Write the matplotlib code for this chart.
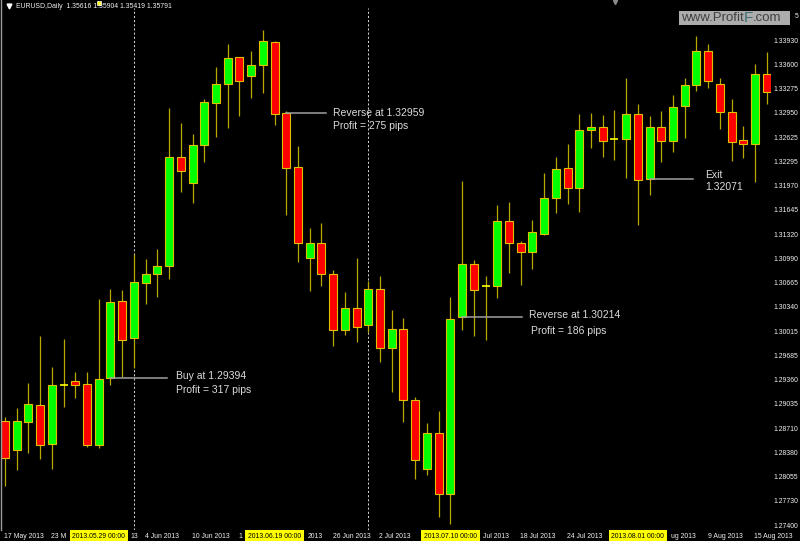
import numpy as np
import pandas as pd
import matplotlib
matplotlib.use('Agg')
import matplotlib.pyplot as plt
from matplotlib.lines import Line2D
from matplotlib.patches import Rectangle
from matplotlib.transforms import IdentityTransform, blended_transform_factory

plt.rcParams['font.family'] = ['Liberation Sans', 'DejaVu Sans']
SMALL = 4.95

# EURUSD daily candles
dates = pd.bdate_range('2013-05-17', '2013-08-16')
opens = [1.28815, 1.28427, 1.28806, 1.29034, 1.28504, 1.29303, 1.29358, 1.29312, 1.28495, 1.29394,
         1.30435, 1.29933, 1.30672, 1.30800, 1.30900, 1.32365, 1.32018, 1.32534, 1.33104, 1.33355,
         1.33711, 1.33460, 1.33606, 1.33921, 1.32959, 1.32242, 1.31019, 1.31210, 1.30800, 1.30038,
         1.30343, 1.30115, 1.30594, 1.29796, 1.30060, 1.29102, 1.28176, 1.28655, 1.27833, 1.30214,
         1.30932, 1.30640, 1.30640, 1.31507, 1.31210, 1.31087, 1.31329, 1.31817, 1.32219, 1.31950,
         1.32734, 1.32771, 1.32611, 1.32607, 1.32944, 1.32071, 1.32780, 1.32593, 1.33058, 1.33346,
         1.33793, 1.33355, 1.32972, 1.32598, 1.32548, 1.33483]
highs = [1.28874, 1.28988, 1.29330, 1.29969, 1.29549, 1.29924, 1.29476, 1.29476, 1.30462, 1.30599,
         1.30585, 1.31064, 1.30996, 1.31133, 1.33036, 1.32835, 1.32684, 1.33154, 1.33583, 1.33894,
         1.33715, 1.33802, 1.34076, 1.33930, 1.32990, 1.32525, 1.31420, 1.31489, 1.30845, 1.30553,
         1.31019, 1.30699, 1.30768, 1.30311, 1.30211, 1.29148, 1.28796, 1.28952, 1.30485, 1.32050,
         1.30982, 1.30768, 1.31726, 1.31763, 1.31238, 1.31530, 1.32160, 1.32374, 1.32547, 1.32949,
         1.32958, 1.32935, 1.33004, 1.33428, 1.33081, 1.32922, 1.32995, 1.33209, 1.33437, 1.33994,
         1.33894, 1.33428, 1.33154, 1.32785, 1.33620, 1.33779]
lows = [1.27939, 1.28158, 1.28386, 1.28304, 1.28180, 1.29011, 1.29125, 1.28463, 1.28455, 1.29308,
        1.29412, 1.29536, 1.30394, 1.30494, 1.30731, 1.31895, 1.31749, 1.32306, 1.32639, 1.32762,
        1.32926, 1.33163, 1.33232, 1.32798, 1.31589, 1.30964, 1.30572, 1.30631, 1.29823, 1.29978,
        1.29887, 1.30015, 1.29613, 1.29203, 1.28806, 1.28039, 1.28089, 1.27528, 1.27437, 1.30038,
        1.29969, 1.29910, 1.30480, 1.30804, 1.30645, 1.30868, 1.31320, 1.31612, 1.31735, 1.31630,
        1.32497, 1.32374, 1.32324, 1.32087, 1.31452, 1.31854, 1.32306, 1.32442, 1.32625, 1.33264,
        1.33300, 1.32753, 1.32315, 1.32360, 1.32036, 1.33086]
closes = [1.28326, 1.28815, 1.29047, 1.28495, 1.29298, 1.29303, 1.29308, 1.28495, 1.29381, 1.30421,
          1.29910, 1.30690, 1.30800, 1.30900, 1.32365, 1.32182, 1.32534, 1.33109, 1.33355, 1.33702,
          1.33392, 1.33611, 1.33925, 1.32944, 1.32228, 1.31210, 1.31210, 1.30791, 1.30038, 1.30343,
          1.30083, 1.30594, 1.29796, 1.30060, 1.29102, 1.28294, 1.28655, 1.27838, 1.30197, 1.30932,
          1.30581, 1.30640, 1.31507, 1.31210, 1.31087, 1.31361, 1.31826, 1.32214, 1.31950, 1.32739,
          1.32771, 1.32593, 1.32611, 1.32944, 1.32068, 1.32771, 1.32593, 1.33049, 1.33346, 1.33793,
          1.33387, 1.32972, 1.32579, 1.32552, 1.33483, 1.33246]

price_levels = [1.27400, 1.27730, 1.28055, 1.28380, 1.28710, 1.29035, 1.29360, 1.29685, 1.30015,
                1.30340, 1.30665, 1.30990, 1.31320, 1.31645, 1.31970, 1.32295, 1.32625, 1.32950,
                1.33275, 1.33600, 1.33930, 1.34255]

# trades: start bar date, price, text
trade_dates = ['2013-05-30', '2013-06-20', '2013-07-11', '2013-08-02']
trade_prices = [1.29394, 1.32959, 1.30214, 1.32071]
trade_line1 = ['Buy at 1.29394', 'Reverse at 1.32959', 'Reverse at 1.30214', 'Exit']
trade_line2 = ['Profit = 317 pips', 'Profit = 275 pips', 'Profit = 186 pips', '1.32071']
marker_dates = ['2013-05-29', '2013-06-19', '2013-07-10', '2013-08-01']
separator_dates = ['2013-06-03', '2013-07-01']

header = 'EURUSD,Daily  1.35616 1.35904 1.35419 1.35791'

W, H = 800, 541
BOT = 530  # bottom of price area, px from top
fig = plt.figure(figsize=(W / 100, H / 100), dpi=100, facecolor='black')
ax = fig.add_axes([2 / W, (H - BOT) / H, 769 / W, BOT / H])
ax.set_facecolor('black')
for s in ax.spines.values():
    s.set_visible(False)

x = np.arange(len(dates))
o = np.array(opens)
c = np.array(closes)
hi = np.array(highs)
lo = np.array(lows)

wick_col = '#b8a800'
edge_col = '#e0c000'
bw = 0.68

ax.vlines(x, lo, hi, color=wick_col, linewidth=0.9, zorder=2)
up = c > o + 0.00003
dn = c < o - 0.00003
dj = ~(up | dn)
ax.bar(x[up], (c - o)[up], bottom=o[up], width=bw, color='#00ff00',
       edgecolor=edge_col, linewidth=0.8, zorder=3)
ax.bar(x[dn], (o - c)[dn], bottom=c[dn], width=bw, color='#ff0000',
       edgecolor=edge_col, linewidth=0.8, zorder=3)
ax.hlines(o[dj], x[dj] - bw / 2, x[dj] + bw / 2, color='#ffff00', linewidth=1.2, zorder=3)

# month separators (start just under the header line)
for d in separator_dates:
    i = dates.get_loc(pd.Timestamp(d))
    ax.axvline(i, ymax=1 - 8 / BOT, color='#d0d0d0', linewidth=0.75,
               linestyle=(0, (2, 2)), zorder=1)

# trade lines and notes
line_len = [4.82, 3.39, 5.09, 3.68]
text_dx = [8.7, 7.3, 7.3, 12.3]
text_dy1 = [2.7, 0.6, 2.6, 4.0]
text_dy2 = [-11.3, -13.0, -13.4, -7.6]
text_dx2 = [0, 0, 1.7, 0]
for k in range(len(trade_dates)):
    i = dates.get_loc(pd.Timestamp(trade_dates[k]))
    p = trade_prices[k]
    ax.plot([i, i + line_len[k]], [p, p], color='#a0a0a0', linewidth=1.1, zorder=4)
    ax.annotate(trade_line1[k], xy=(i + line_len[k], p), xytext=(text_dx[k], text_dy1[k]),
                textcoords='offset pixels', color='#dcdcdc', fontsize=7.5, va='center', ha='left')
    ax.annotate(trade_line2[k], xy=(i + line_len[k], p), xytext=(text_dx[k] + text_dx2[k], text_dy2[k]),
                textcoords='offset pixels', color='#dcdcdc', fontsize=7.5, va='center', ha='left')

# scales: 1.32959 sits at y=113.3 px, 7433 px per unit of price
ax.set_xlim((2 - 5) / 11.72, (771 - 5) / 11.72)
ax.set_ylim(1.32959 - (BOT - 113.3) / 7433, 1.32959 + 113.3 / 7433)
ax.set_xticks([])
ax.set_yticks([])

# price scale on the right
yt = blended_transform_factory(ax.transAxes, ax.transData)
price_texts = []
for v in price_levels:
    t = ax.text(1 + 2.5 / 769, v, '%.5f' % v, transform=yt, color='#f0f0f0', fontsize=SMALL,
                ha='left', va='center', clip_on=False)
    price_texts.append(t)

# date labels every 4 bars
xt = ax.get_xaxis_transform()
ylab = -6 / BOT
date_texts = []
for i in range(0, len(dates), 4):
    lbl = '%d %s' % (dates[i].day, dates[i].strftime('%b %Y'))
    t = ax.text(i - 0.05, ylab, lbl, transform=xt, color='#f0f0f0', fontsize=SMALL,
                ha='left', va='center', clip_on=False)
    date_texts.append(t)
mark_texts = []
for d in marker_dates:
    i = dates.get_loc(pd.Timestamp(d))
    t = ax.text(i, ylab, pd.Timestamp(d).strftime('%Y.%m.%d %H:%M'), transform=xt,
                color='black', fontsize=SMALL, ha='center', va='center',
                clip_on=False, zorder=10,
                bbox=dict(boxstyle='square,pad=0.4', facecolor='#ffff00', edgecolor='none'))
    mark_texts.append(t)

# header
fig.add_artist(Line2D([9 / W], [1 - 6 / H], marker='v', markersize=3.5, color='white',
                      linestyle='none'))
fig.text(16 / W, 1 - 7 / H, header, color='#f0f0f0', fontsize=SMALL, ha='left', va='center')
i = dates.get_loc(pd.Timestamp(marker_dates[0]))
ax.plot([i], [1.32959 + 110.5 / 7433], marker='s', markersize=3, color='#ffff00',
        markeredgecolor='white', markeredgewidth=0.5, zorder=6, clip_on=False)
fig.add_artist(Line2D([615 / W], [1 - 2 / H], marker='v', markersize=3, color='#8a8a8a',
                      linestyle='none'))
fig.add_artist(Line2D([1 / W, 1 / W], [(H - BOT) / H, 1], color='#9a9a9a', linewidth=1.0))

# watermark
wm = Rectangle((679 / W, 1 - 25 / H), 111 / W, 14 / H, transform=fig.transFigure,
               facecolor='#bcbcbc', edgecolor='none', alpha=0.92, zorder=20)
fig.add_artist(wm)
t1 = fig.text(681 / W, 1 - 18 / H, 'www.Profit', color='#404040', fontsize=9.5,
              ha='left', va='center', zorder=21)
fig.canvas.draw()
bb = t1.get_window_extent()
t2 = fig.text(bb.x1 / W, 1 - 18 / H, 'F', color='#3c6e74', fontsize=11, ha='left',
              va='center', zorder=21)
fig.canvas.draw()
bb2 = t2.get_window_extent()
fig.text(bb2.x1 / W, 1 - 18 / H, '.com', color='#404040', fontsize=9.5, ha='left',
         va='center', zorder=21)


def keep_visible(t, hb, r):
    # cut the part of a label that sits under a covering box
    full = t.get_text()
    bb = t.get_window_extent(r)
    if bb.x1 <= hb.x0 or bb.x0 >= hb.x1 or bb.y1 <= hb.y0 or bb.y0 >= hb.y1:
        return
    s = full
    if bb.x0 < hb.x0:
        while s and t.get_window_extent(r).x1 > hb.x0 - 1:
            s = s[:-1]
            t.set_text(s)
        t.set_text(s.rstrip())
    else:
        x_end, y_mid = bb.x1, (bb.y0 + bb.y1) / 2
        t.set_transform(IdentityTransform())
        t.set_position((x_end, y_mid))
        t.set_ha('right')
        while s and x_end - t.get_window_extent(r).width < hb.x1 + 1:
            s = s[1:]
            t.set_text(s)
        t.set_text(s.lstrip())
    if not t.get_text().strip():
        t.remove()


fig.canvas.draw()
r = fig.canvas.get_renderer()
boxes = [m.get_bbox_patch().get_window_extent(r) for m in mark_texts]
for t in date_texts:
    for hb in boxes:
        if t.figure is not None:
            keep_visible(t, hb, r)
wbox = wm.get_window_extent(r)
for t in price_texts:
    keep_visible(t, wbox, r)

fig.savefig('out.png', dpi=100, facecolor='black')
